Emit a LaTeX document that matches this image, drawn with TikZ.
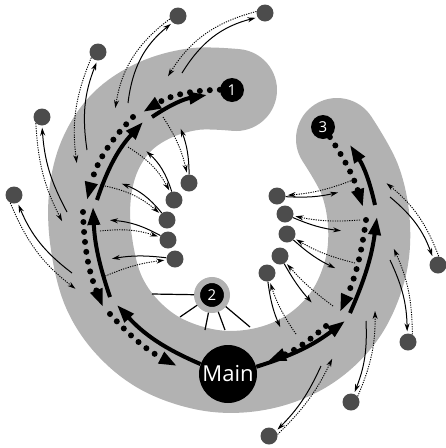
\documentclass[tikz,border=0pt]{standalone}
\usepackage{fontspec}
\setsansfont{Open Sans}
\usetikzlibrary{arrows.meta}

\tikzset{
  band/.style={line width=82pt, draw=black!30, line cap=round, line join=round},
  hub/.style={circle, fill=black, text=white, inner sep=0pt, minimum size=24pt,
    font=\sffamily\fontsize{15}{15}\selectfont},
  sat/.style={circle, fill=black!70, inner sep=0pt, minimum size=17pt},
  give/.style={line width=1pt, -{Stealth[length=8pt,width=5pt]}, shorten >=2pt},
  take/.style={line width=0.9pt, dash pattern=on 1.2pt off 1.2pt,
    -{Stealth[length=8pt,width=5pt]}, shorten >=2pt},
  push/.style={line width=4pt, -{Triangle[length=18pt,width=12pt]}},
  pull/.style={line width=6pt, line cap=round, dash pattern=on 0pt off 10pt,
    -{Triangle[length=18pt,width=12pt]}},
  spoke/.style={line width=1.2pt}
}

\begin{document}
\begin{tikzpicture}[x=1pt,y=1pt]
  \useasboundingbox (0,0) rectangle (446,-448);

  % Grey band from 1 round to 3
  \draw[band] plot[smooth, tension=0.6] coordinates {(236,-90) (195,-89) (155,-100)
    (122,-122) (100,-155) (90,-195) (91,-240) (103,-290) (128,-328) (165,-356)
    (215,-371) (265,-368) (310,-349) (345,-315) (365,-270) (369,-225) (360,-180)
    (337,-139)};

  % Hubs
  \node[hub] (n1) at (232,-90) {1};
  \node[hub] (n3) at (323,-127) {3};
  \node[hub, minimum size=58pt, font=\sffamily\fontsize{22}{22}\selectfont]
    (main) at (228,-374) {Main};
  \node[hub, minimum size=30pt, draw=black!30, line width=6pt] (n2) at (212,-295) {2};

  % Spokes of 2
  \foreach \p [count=\i] in {{152,-294},{180,-317},{205,-330},{225,-330},{250,-327}} {
    \coordinate (r\i) at (\p);
    \draw[spoke] (n2) -- (r\i);
  }

  % Flow ends in the band
  \coordinate (pa1) at (152,-117); \coordinate (pa2) at (207,-95);
  \coordinate (pb1) at (97,-200);  \coordinate (pb2) at (143,-122);
  \coordinate (pc1) at (110,-297); \coordinate (pc2) at (93,-207);
  \coordinate (pd2) at (117,-305);
  \coordinate (pe2) at (345,-321);
  \coordinate (pf1) at (350,-313); \coordinate (pf2) at (377,-217);
  \coordinate (pg1) at (375,-205); \coordinate (pg2) at (350,-145);
  \coordinate (qa2) at (143,-112);
  \coordinate (qb1) at (133,-117); \coordinate (qb2) at (87,-200);
  \coordinate (qc1) at (83,-212);  \coordinate (qc2) at (103,-307);
  \coordinate (qd1) at (110,-314); \coordinate (qd2) at (177,-366);
  \coordinate (qe1) at (326,-326); \coordinate (qe2) at (268,-361);
  \coordinate (qf1) at (366,-220); \coordinate (qf2) at (340,-312);
  \coordinate (qg2) at (363,-207);

  % Solid flow out of Main
  \draw[push] (pa1) to[bend left=12] (pa2);
  \draw[push] (pb1) to[bend left=12] (pb2);
  \draw[push] (pc1) to[bend left=8] (pc2);
  \draw[push] (main) to[bend left=12] (pd2);
  \draw[push] (main) to[bend right=10] (pe2);
  \draw[push] (pf1) to[bend right=8] (pf2);
  \draw[push] (pg1) to[bend right=10] (pg2);

  % Dotted flow back to Main
  \draw[pull] (n1) to[bend right=15] (qa2);
  \draw[pull] (qb1) to[bend right=15] (qb2);
  \draw[pull] (qc1) to[bend right=10] (qc2);
  \draw[pull] (qd1) to[bend right=10] (qd2);
  \draw[pull] (qe1) to[bend left=10] (qe2);
  \draw[pull] (qf1) to[bend left=8] (qf2);
  \draw[pull] (n3) to[bend left=8] (qg2);

  % Outer satellites
  \foreach \n/\p/\s/\d/\b/\u/\v in {
      1/{178,-16}/{128,-103}/{115,-110}/22/230/200,
      2/{265,-13}/{182,-73}/{167,-78}/22/210/170,
      3/{98,-52}/{87,-150}/{77,-165}/15/265/220,
      4/{42,-117}/{67,-212}/{63,-223}/12/270/225,
      5/{14,-195}/{72,-273}/{77,-290}/15/295/245,
      6/{438,-265}/{390,-197}/{385,-182}/15/125/85,
      7/{408,-342}/{390,-260}/{393,-247}/12/95/60,
      8/{351,-402}/{366,-321}/{375,-309}/12/70/40,
      9/{269,-436}/{321,-366}/{333,-357}/10/35/10} {
    \node[sat] (o\n) at (\p) {};
    \coordinate (o\n-in) at (\s);
    \coordinate (o\n-out) at (\d);
    \draw[give] (o\n-in) to[bend left=\b] (o\n.\u);
    \draw[take] (o\n.\v) to[bend right=\b] (o\n-out);
  }

  % Inner satellites
  \foreach \n/\p/\s/\d/\b in {
      1/{189,-183}/{180,-127}/{163,-117}/-10,
      2/{174,-200}/{145,-150}/{128,-147}/-15,
      3/{167,-220}/{120,-183}/{100,-185}/-15,
      4/{168,-240}/{108,-220}/{100,-231}/-12,
      5/{175,-259}/{110,-259}/{103,-277}/-8,
      6/{277,-196}/{340,-192}/{353,-180}/-8,
      7/{285,-214}/{343,-231}/{360,-220}/-8,
      8/{287,-234}/{337,-269}/{355,-263}/-8,
      9/{280,-256}/{313,-304}/{333,-306}/-6,
      10/{267,-273}/{281,-329}/{296,-334}/-8} {
    \node[sat] (i\n) at (\p) {};
    \coordinate (i\n-out) at (\s);
    \coordinate (i\n-in) at (\d);
    \draw[give] (i\n) to[bend left=\b] (i\n-out);
    \draw[take] (i\n-in) to[bend right=\b] (i\n);
  }
\end{tikzpicture}
\end{document}
